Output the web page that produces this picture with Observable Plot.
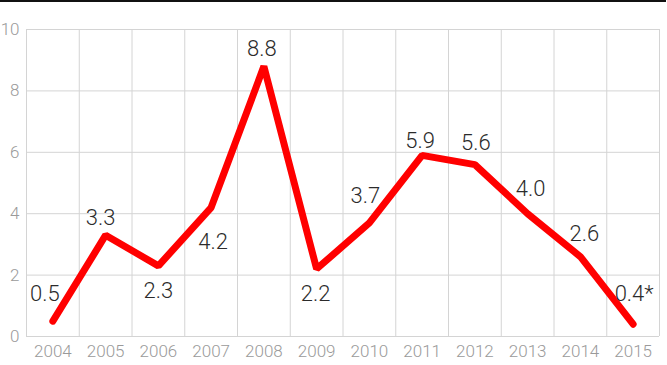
<!DOCTYPE html>
<html>
<head>
<meta charset="utf-8">
<script src="https://cdn.jsdelivr.net/npm/d3@7"></script>
<script src="https://cdn.jsdelivr.net/npm/@observablehq/plot@0.6"></script>
<style>
  body { margin: 0; background: #fff; }
  #wrap { position: relative; width: 667px; height: 365px; }
  #topline { position: absolute; left: 0; top: 0; width: 666px; height: 1.5px; background: #111; }
  svg { display: block; }
</style>
</head>
<body>
<div id="wrap"><div id="topline"></div></div>
<script>
const years = [2004, 2005, 2006, 2007, 2008, 2009, 2010, 2011, 2012, 2013, 2014, 2015];
const values = [0.5, 3.3, 2.3, 4.2, 8.8, 2.2, 3.7, 5.9, 5.6, 4.0, 2.6, 0.4];
const labels = ["0.5", "3.3", "2.3", "4.2", "8.8", "2.2", "3.7", "5.9", "5.6", "4.0", "2.6", "0.4*"];
const yTicks = [0, 2, 4, 6, 8, 10];

const data = years.map((year, i) => ({year, value: values[i], label: labels[i]}));

// label placement offsets (styling), one per point
const offsets = [[-8,-27],[-5,-17],[0,25],[2,34],[-2,-17],[-1,25],[-4,-27],[-2,-14],[1,-22],[3,-25],[4,-23],[1,-30]];

const boundaries = years.map(y => y - 0.5).concat([years[years.length - 1] + 0.5]);

const font = "Roboto, 'Open Sans', sans-serif";

const labelMarks = offsets.map(([dx, dy], k) =>
  Plot.text(data, {
    filter: (d, i) => i === k,
    x: "year", y: "value", text: "label",
    dx, dy, fill: "#2b2b2b", fontSize: 22, fontWeight: 300
  })
);

const chart = Plot.plot({
  width: 667,
  height: 365,
  marginTop: 29,
  marginBottom: 29,
  marginLeft: 26,
  marginRight: 8,
  style: {fontFamily: font, background: "#fff"},
  x: {domain: [years[0] - 0.5, years[years.length - 1] + 0.5], axis: null},
  y: {domain: [0, 10], axis: null},
  marks: [
    Plot.ruleY(yTicks, {stroke: "#d4d4d4", strokeWidth: 1}),
    Plot.ruleX(boundaries, {stroke: "#d4d4d4", strokeWidth: 1}),
    Plot.axisY(yTicks, {tickSize: 0, tickPadding: 7, fill: "#9a9a9a", fontSize: 17, fontWeight: 300, label: null, tickFormat: d => String(d)}),
    Plot.axisX(years, {tickSize: 0, tickPadding: 8, fill: "#9a9a9a", fontSize: 17, fontWeight: 300, label: null, tickFormat: d => String(d)}),
    Plot.line(data, {x: "year", y: "value", stroke: "#ff0000", strokeWidth: 7, strokeLinecap: "round", strokeLinejoin: "miter"}),
    ...labelMarks
  ]
});

document.getElementById("wrap").appendChild(chart);
</script>
</body>
</html>
